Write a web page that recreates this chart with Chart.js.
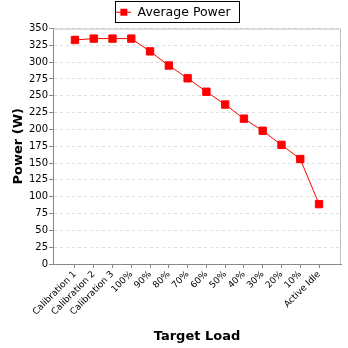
<!DOCTYPE html>
<html>
<head>
<meta charset="utf-8">
<script src="https://cdn.jsdelivr.net/npm/chart.js@4"></script>
<style>
  html, body { margin: 0; padding: 0; background: #fff; }
  #wrap { width: 348px; height: 348px; }
</style>
</head>
<body>
<div id="wrap"><canvas id="powerChart" width="348" height="348"></canvas></div>
<script>
// chart data
const categories = ['Calibration 1', 'Calibration 2', 'Calibration 3', '100%', '90%', '80%', '70%',
  '60%', '50%', '40%', '30%', '20%', '10%', 'Active Idle'];
const averagePower = [333, 335, 335, 335, 316, 295, 276, 256, 237, 216, 198, 177, 156, 89];
const yTicks = [0, 25, 50, 75, 100, 125, 150, 175, 200, 225, 250, 275, 300, 325, 350];

const red = '#ff0000';
const font = 'DejaVu Sans';

// legend marker: short line with a square on it
const marker = document.createElement('canvas');
marker.width = 15; marker.height = 9;
const mctx = marker.getContext('2d');
mctx.fillStyle = red;
mctx.fillRect(0, 4, 15, 1);
mctx.fillRect(4, 1, 7, 7);

const framePlugin = {
  id: 'frame',
  afterLayout(chart) {
    // nudge legend a little to the right like the original
    const lg = chart.legend;
    lg.left += 3; lg.right += 3;
    lg.adjustHitBoxes();
  },
  beforeDatasetsDraw(chart) {
    const { ctx, chartArea: a } = chart;
    ctx.save();
    ctx.strokeStyle = '#c0c0c0';
    ctx.lineWidth = 1;
    ctx.beginPath();
    ctx.moveTo(a.left, a.top + 0.5); ctx.lineTo(a.right - 0.5, a.top + 0.5); ctx.lineTo(a.right - 0.5, a.bottom);
    ctx.stroke();
    ctx.restore();
  },
  afterDraw(chart) {
    const hb = chart.legend.legendHitBoxes[0];
    if (!hb) return;
    const ctx = chart.ctx;
    ctx.save();
    ctx.strokeStyle = '#000';
    ctx.lineWidth = 1;
    const l = Math.round(hb.left) - 0.5;
    const r = Math.round(hb.left + hb.width) + 8.5;
    ctx.strokeRect(l, 1.5, r - l, 21);
    ctx.restore();
  }
};

const ctx = document.getElementById('powerChart').getContext('2d');
const powerChart = new Chart(ctx, {
  type: 'line',
  data: {
    datasets: [{
      label: 'Average Power',
      data: averagePower.map((v, i) => ({ x: i, y: v })),
      borderColor: red,
      backgroundColor: red,
      borderWidth: 1,
      pointStyle: 'rect',
      pointRadius: 5.2,
      pointHoverRadius: 5.2,
      tension: 0
    }]
  },
  options: {
    responsive: false,
    animation: false,
    layout: { padding: { left: 0, right: 7, top: 2, bottom: 0 } },
    plugins: {
      legend: {
        position: 'top',
        labels: {
          usePointStyle: true,
          pointStyle: marker,
          pointStyleWidth: 15,
          boxHeight: 9,
          padding: 4,
          color: '#000',
          font: { family: font, size: 12.5 }
        }
      },
      tooltip: { enabled: false }
    },
    scales: {
      x: {
        type: 'linear',
        min: -1.17,
        max: categories.length - 1 + 1.17,
        afterBuildTicks(scale) {
          scale.ticks = categories.map((c, i) => ({ value: i }));
        },
        afterFit(scale) { scale.height = 84; },
        ticks: {
          autoSkip: false,
          minRotation: 45,
          maxRotation: 45,
          padding: 1,
          color: '#000',
          font: { family: font, size: 9 },
          callback: (v) => categories[v]
        },
        grid: { drawOnChartArea: false, drawTicks: true, tickLength: 4, color: '#888' },
        border: { color: '#888', width: 1 },
        title: {
          display: true,
          text: 'Target Load',
          color: '#000',
          font: { family: font, size: 13, weight: 'bold' },
          padding: { top: 0, bottom: 4 }
        }
      },
      y: {
        min: 0,
        max: 350,
        afterBuildTicks(scale) {
          scale.ticks = yTicks.map(v => ({ value: v }));
        },
        afterFit(scale) { scale.width = 53; },
        ticks: {
          padding: 1,
          color: '#000',
          font: { family: font, size: 10 }
        },
        grid: {
          color: '#dddddd',
          tickColor: '#888',
          tickBorderDash: [],
          tickLength: 4
        },
        border: { color: '#888', width: 1, dash: [3, 3] },
        title: {
          display: true,
          text: 'Power (W)',
          color: '#000',
          font: { family: font, size: 13, weight: 'bold' },
          padding: { top: 11, bottom: 0 }
        }
      }
    }
  },
  plugins: [framePlugin]
});
</script>
</body>
</html>
